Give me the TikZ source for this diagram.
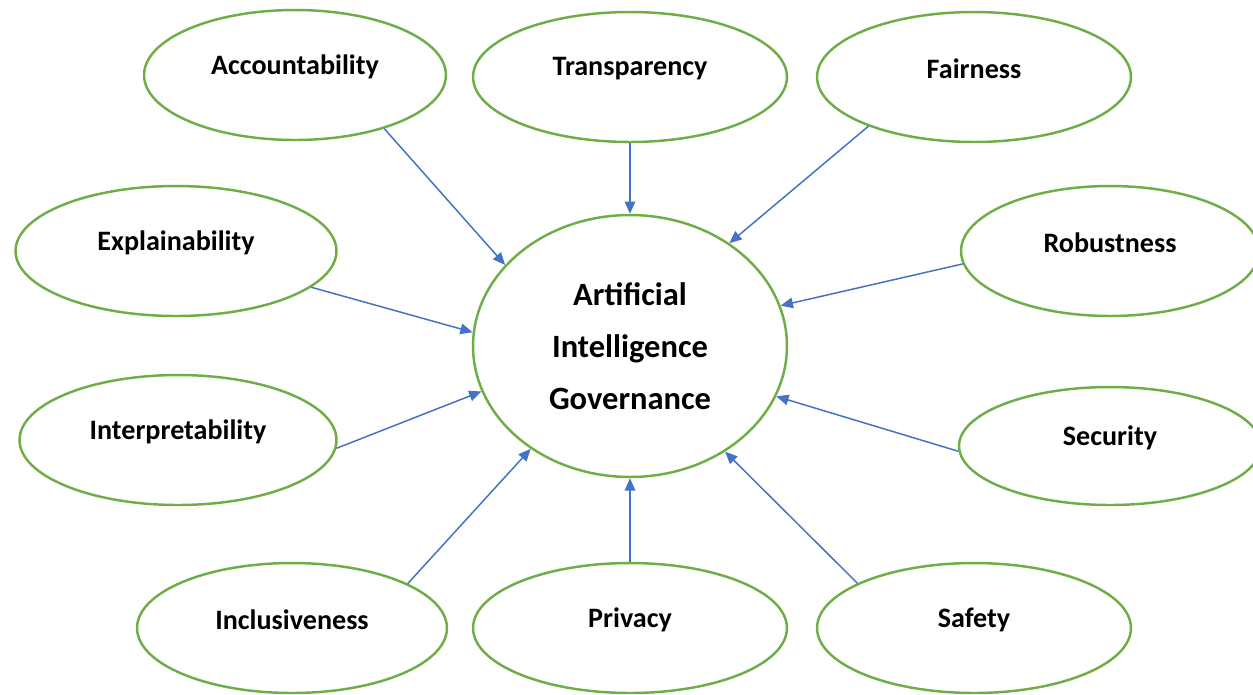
\documentclass[tikz,border=0pt]{standalone}
\usepackage{fontspec}
\setmainfont{Carlito}
\usetikzlibrary{shapes.geometric,arrows.meta}

\definecolor{aigreen}{HTML}{70AD47}
\definecolor{aiblue}{HTML}{4472C4}

\tikzset{
    pillar/.style={ellipse, draw=aigreen, line width=1.4pt, fill=white,
        minimum width=6.28cm, minimum height=2.6cm, inner sep=0pt,
        label={[font=\fontsize{16}{19}\selectfont\bfseries, yshift=0.16cm]center:#1}},
    core/.style={ellipse, draw=aigreen, line width=1.4pt, align=center,
        minimum width=6.28cm, minimum height=5.24cm, inner sep=0pt,
        font=\fontsize{18.5}{29.6}\selectfont\bfseries},
    feed/.style={draw=aiblue, line width=0.85pt,
        -{Triangle[length=7pt,width=6pt,fill=aiblue]}}
}

\begin{document}
\begin{tikzpicture}[x=0.02cm, y=-0.02cm]
        \useasboundingbox (0,0) rectangle (1253,694);

        % Central ellipse
        \node[core] (aig) at (630,346) {Artificial\\Intelligence\\Governance};

        % Top row
        \node[pillar=Accountability, minimum width=6.04cm] (acc) at (295,75) {};
        \node[pillar=Transparency] (tra) at (630,77) {};
        \node[pillar=Fairness] (fai) at (974,77) {};

        % Middle rows
        \node[pillar=Explainability, minimum width=6.42cm] (exp) at (176,251) {};
        \node[pillar=Robustness, minimum width=5.96cm] (rob) at (1110,251) {};
        \node[pillar=Interpretability, minimum width=6.34cm] (int) at (178,440) {};
        \node[pillar=Security, minimum width=6.04cm, minimum height=2.36cm] (sec) at (1110,446) {};

        % Bottom row
        \node[pillar=Inclusiveness, minimum width=6.2cm] (inc) at (292,628) {};
        \node[pillar=Privacy] (pri) at (630,628) {};
        \node[pillar=Safety] (saf) at (974,628) {};

        % Arrows into the centre
        \draw[feed] (acc.-31) -- (aig.147);
        \draw[feed] (tra.-90) -- (aig.90);
        \draw[feed] (fai.205) -- (aig.46);
        \draw[feed] (exp.-15) -- (aig.175);
        \draw[feed] (rob.185) -- (aig.15);
        \draw[feed] (int.-3) -- (aig.197);
        \draw[feed] (sec.182) -- (aig.-19);
        \draw[feed] (inc.21) -- (aig.226);
        \draw[feed] (pri.90) -- (aig.270);
        \draw[feed] (saf.159) -- (aig.-48);
    \end{tikzpicture}
\end{document}
